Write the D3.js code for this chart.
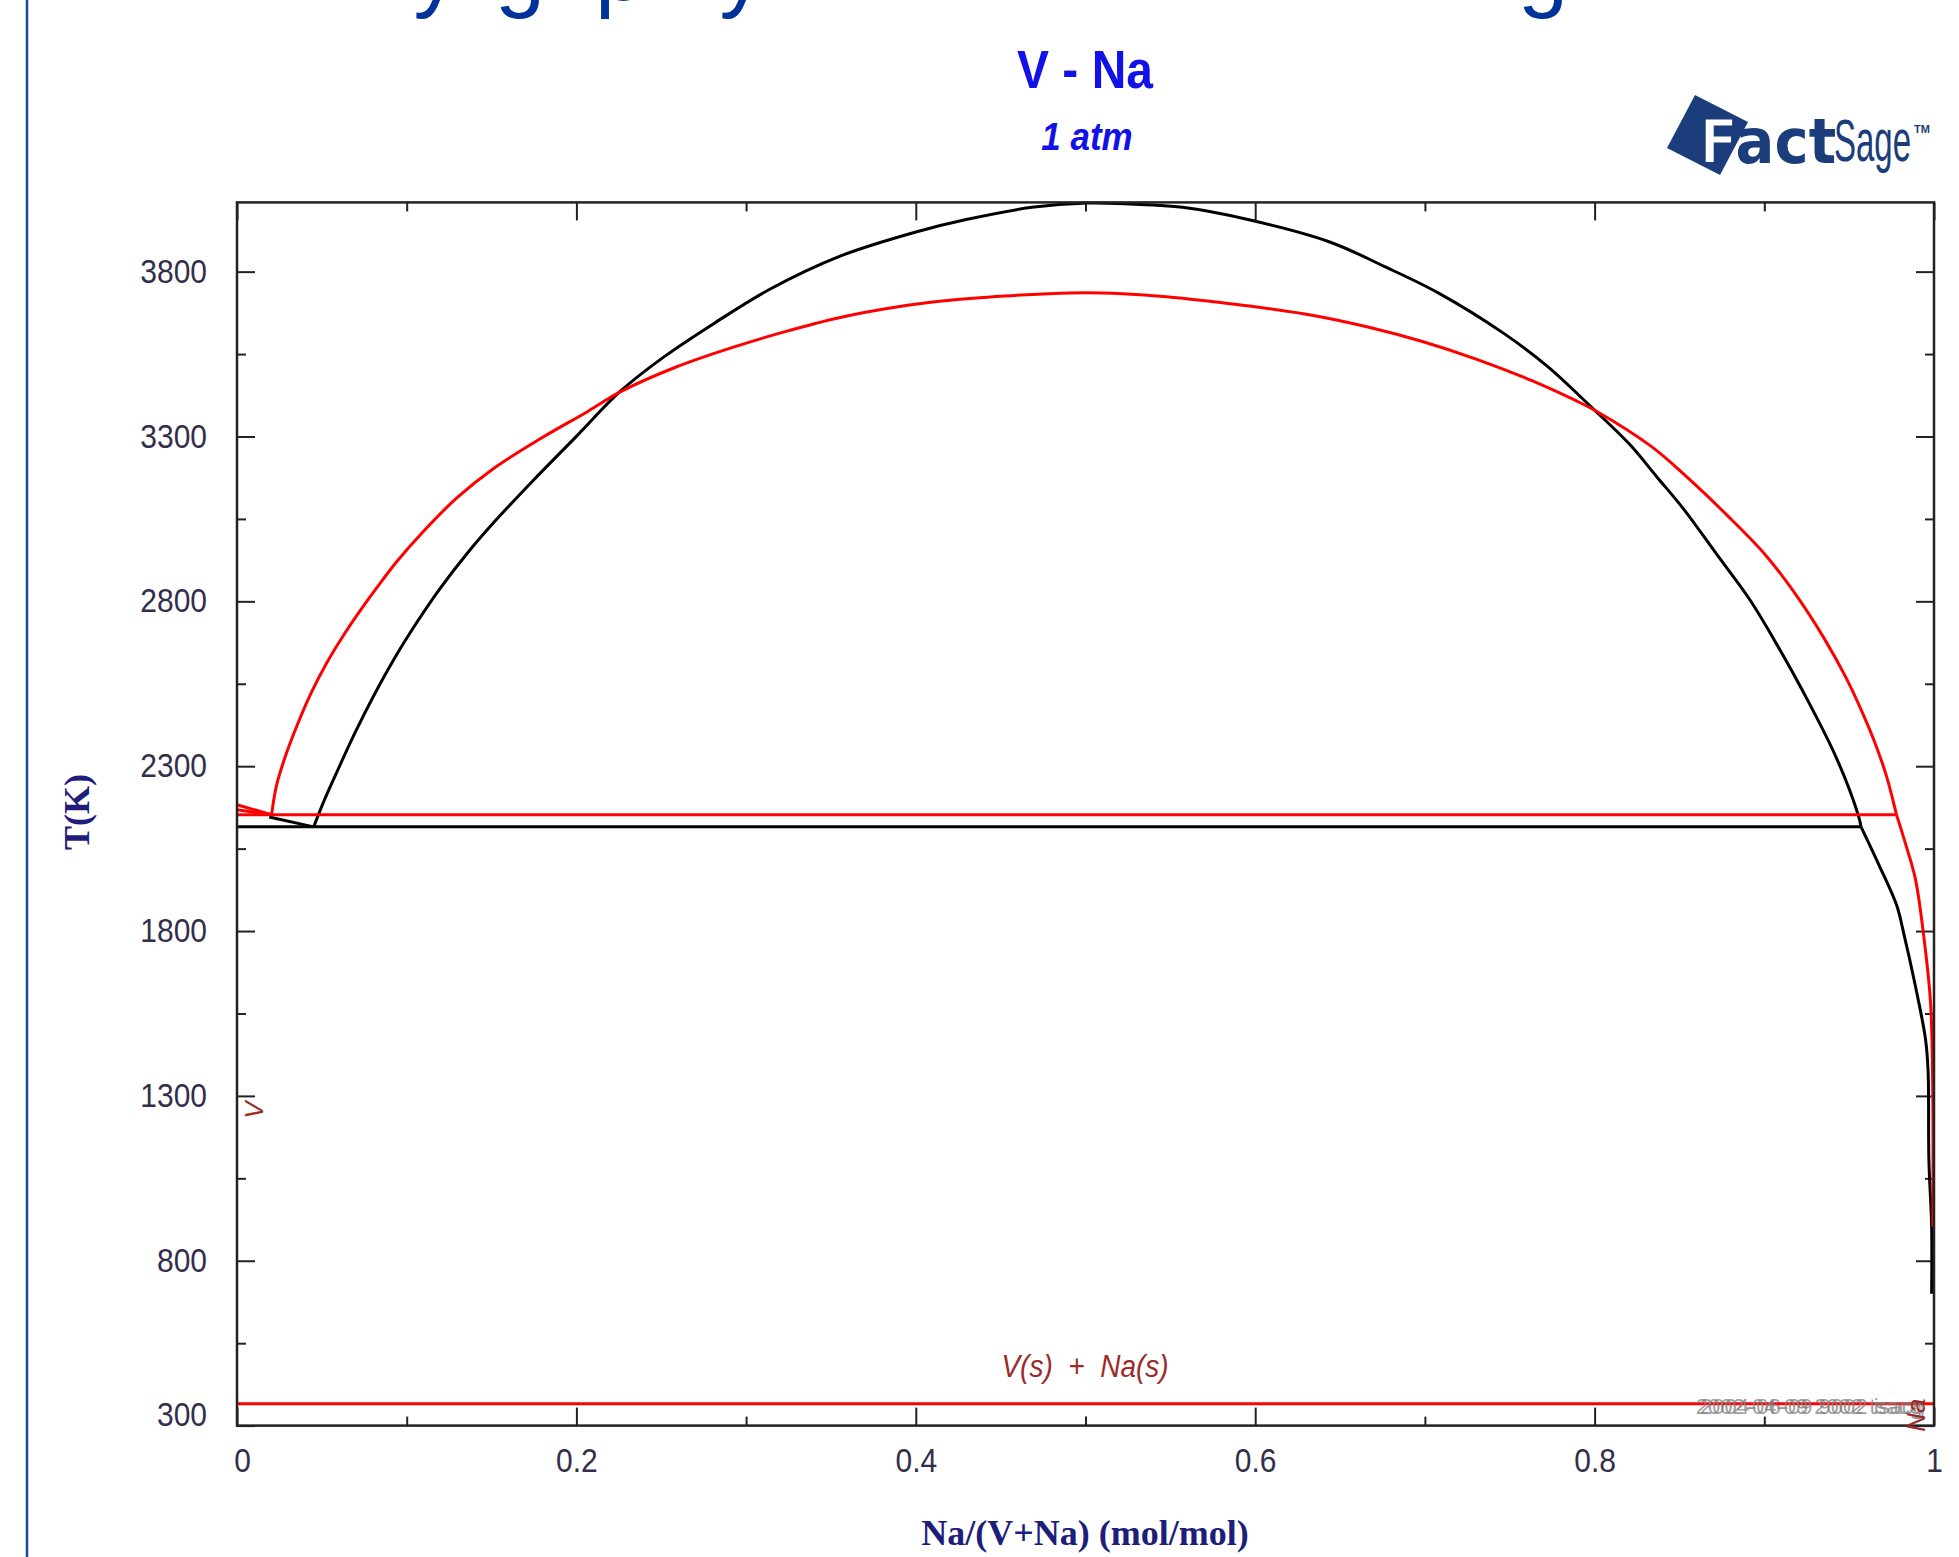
<!DOCTYPE html>
<html><head><meta charset="utf-8">
<script src="https://cdn.jsdelivr.net/npm/d3@7"></script>
<style>html,body{margin:0;padding:0;background:#fff;overflow:hidden}svg{display:block}</style>
</head><body>
<svg id="c" width="1959" height="1557"></svg>
<script>
// ---------- data ----------
const xMajor = [0, 0.2, 0.4, 0.6, 0.8, 1];
const xLabels = ["0", "0.2", "0.4", "0.6", "0.8", "1"];
const xMinor = [0.1, 0.3, 0.5, 0.7, 0.9];
const yMajor = [300, 800, 1300, 1800, 2300, 2800, 3300, 3800];
const yMinor = [550, 1050, 1550, 2050, 2550, 3050, 3550];

// black dome (x = Na mole fraction, T in K)
const blackDomeX = [0.0452,0.0517,0.0598,0.0695,0.0808,0.0937,0.1066,0.1195,0.1357,0.1518,0.1744,0.2003,0.2261,0.252,0.2811,0.3134,0.3554,0.4006,0.4297,0.4684,0.5007,0.5267,0.5572,0.5957,0.6439,0.676,0.7081,0.7467,0.7724,0.7981,0.8205,0.8366,0.8526,0.8719,0.8912,0.9072,0.9233,0.9426,0.9554,0.957];
const blackDomeT = [2116,2200,2293,2401,2516,2635,2741,2838,2946,3042,3166,3302,3438,3543,3643,3745,3847,3921,3958,3995,4008,4005,3995,3958,3890,3816,3735,3612,3512,3389,3277,3178,3079,2943,2807,2671,2522,2324,2151,2116];
// black branch below the invariant, Na-rich side
const blackTailX = [0.957,0.9676,0.978,0.982,0.989,0.995,0.9965,0.997,0.9986,0.9986];
const blackTailT = [2116,2000,1878,1797,1634,1472,1377,1105,903,700];

// red dome
const redDomeX = [0.0204,0.0232,0.0285,0.0355,0.0435,0.0525,0.0625,0.073,0.0845,0.0937,0.1098,0.1292,0.1518,0.1777,0.2067,0.2261,0.2584,0.2907,0.323,0.3554,0.3877,0.42,0.4523,0.4781,0.5,0.5219,0.5476,0.5733,0.6022,0.6343,0.6664,0.6985,0.7306,0.7627,0.7884,0.8013,0.8334,0.8527,0.8783,0.9008,0.92,0.935,0.948,0.958,0.966,0.972,0.9779];
const redDomeT = [2153,2240,2330,2425,2520,2610,2695,2775,2856,2918,3012,3112,3205,3290,3376,3436,3510,3568,3618,3661,3692,3713,3726,3733,3736,3733,3724,3710,3692,3667,3632,3588,3534,3470,3410,3376,3270,3185,3060,2940,2810,2690,2570,2460,2360,2270,2153];
// red branch below the invariant, Na-rich side
const redTailX = [0.9779,0.9835,0.989,0.994,0.998,0.9993,0.9993];
const redTailT = [2153,2060,1959,1783,1580,1300,903];

// horizontal invariant lines [x0, x1, T]
const redLines = [[0, 0.978, 2153], [0, 1, 366]];
const blackLines = [[0, 0.957, 2116]];
// short segments near pure V
const redSegX = [[0, 0.0204], [0, 0.0204]];
const redSegT = [[2183, 2153], [2168, 2153]];
const blackSegX = [[0.019, 0.0452]];
const blackSegT = [[2146, 2116]];

// ---------- layout ----------
const svg = d3.select("#c");
const L = 237, R = 1934, T0 = 202.4, B = 1425.6;
const x = d3.scaleLinear().domain([0, 1]).range([L, R]);
const y = d3.scaleLinear().domain([300, 4010]).range([B, T0]);

svg.append("rect").attr("width", 1959).attr("height", 1557).attr("fill", "#fff");

// slide decoration: vertical blue rule & clipped slide title descenders
svg.append("line").attr("x1", 27).attr("x2", 27).attr("y1", 0).attr("y2", 1557)
  .attr("stroke", "#1f47a8").attr("stroke-width", 2.5);
const slideGlyphs = [["y", 436], ["g", 520], ["p", 620], ["y", 742], ["g", 1543]];
slideGlyphs.forEach(([c, cx]) => {
  svg.append("text").attr("x", cx).attr("y", 0).attr("text-anchor", "middle")
    .attr("font-family", "Liberation Sans, Arial, sans-serif")
    .attr("font-size", 90).attr("fill", "#003399").text(c);
});

// titles
svg.append("text").attr("transform", "translate(1085,88) scale(1,1.1)")
  .attr("text-anchor", "middle").attr("font-family", "Liberation Sans, Arial, sans-serif")
  .attr("font-weight", "bold").attr("font-size", 48).attr("fill", "#1212e8").text("V - Na");
svg.append("text").attr("transform", "translate(1087,150) scale(1,1.12)")
  .attr("text-anchor", "middle").attr("font-family", "Liberation Sans, Arial, sans-serif")
  .attr("font-weight", "bold").attr("font-style", "italic").attr("font-size", 35)
  .attr("fill", "#1212e8").text("1 atm");

// FactSage logo
const navy = "#1b3d7b";
svg.append("polygon").attr("points", "1695,95 1748,122 1720,175 1667,148").attr("fill", navy);
const logo = svg.append("text").attr("transform", "translate(1699,163) scale(0.93,1)")
  .attr("font-family", "DejaVu Sans, sans-serif").attr("font-weight", "bold").attr("font-size", 62);
logo.append("tspan").attr("fill", "#fff").attr("stroke", navy).attr("stroke-width", 3).text("F");
logo.append("tspan").attr("fill", navy).attr("dx", -3).text("act");
svg.append("text").attr("transform", "translate(1834,161) scale(0.55,1)")
  .attr("font-family", "Liberation Sans, Arial, sans-serif").attr("font-size", 60)
  .attr("fill", navy).text("Sage");
svg.append("text").attr("x", 1914).attr("y", 133).attr("font-family", "Liberation Sans, Arial, sans-serif")
  .attr("font-weight", "bold").attr("font-size", 11).attr("fill", navy).text("TM");

// ---------- axes ----------
const labelColor = "#332e4a";
function styleAxis(g, withText) {
  g.select(".domain").remove();
  g.selectAll(".tick line").attr("stroke", "#222").attr("stroke-width", 2);
  if (withText) {
    g.selectAll(".tick text").attr("fill", labelColor)
      .attr("font-family", "Liberation Sans, Arial, sans-serif").attr("font-size", 30)
      .attr("transform", "scale(1,1.1)");
  } else g.selectAll(".tick text").remove();
}
// bottom
const gB = svg.append("g").attr("transform", `translate(0,${B})`)
  .call(d3.axisBottom(x).tickValues(xMajor).tickSizeInner(-18).tickSizeOuter(0).tickPadding(21)
    .tickFormat((d, i) => xLabels[i]));
styleAxis(gB, true);
gB.selectAll(".tick text").filter(d => d === 0).attr("x", 5);
svg.append("g").attr("transform", `translate(0,${B})`)
  .call(d3.axisBottom(x).tickValues(xMinor).tickSizeInner(-9).tickSizeOuter(0).tickFormat(""))
  .call(g => styleAxis(g, false));
// top
svg.append("g").attr("transform", `translate(0,${T0})`)
  .call(d3.axisTop(x).tickValues(xMajor).tickSizeInner(-18).tickSizeOuter(0).tickFormat(""))
  .call(g => styleAxis(g, false));
svg.append("g").attr("transform", `translate(0,${T0})`)
  .call(d3.axisTop(x).tickValues(xMinor).tickSizeInner(-9).tickSizeOuter(0).tickFormat(""))
  .call(g => styleAxis(g, false));
// left
const gL = svg.append("g").attr("transform", `translate(${L},0)`)
  .call(d3.axisLeft(y).tickValues(yMajor).tickSizeInner(-18).tickSizeOuter(0).tickPadding(30)
    .tickFormat(d3.format("d")));
styleAxis(gL, true);
gL.selectAll(".tick text").filter(d => d === 300).attr("y", -10);
svg.append("g").attr("transform", `translate(${L},0)`)
  .call(d3.axisLeft(y).tickValues(yMinor).tickSizeInner(-9).tickSizeOuter(0).tickFormat(""))
  .call(g => styleAxis(g, false));
// right
svg.append("g").attr("transform", `translate(${R},0)`)
  .call(d3.axisRight(y).tickValues(yMajor).tickSizeInner(-18).tickSizeOuter(0).tickFormat(""))
  .call(g => styleAxis(g, false));
svg.append("g").attr("transform", `translate(${R},0)`)
  .call(d3.axisRight(y).tickValues(yMinor).tickSizeInner(-9).tickSizeOuter(0).tickFormat(""))
  .call(g => styleAxis(g, false));

// axis titles
svg.append("text").attr("x", 1085).attr("y", 1545).attr("text-anchor", "middle")
  .attr("font-family", "Liberation Serif, Times New Roman, serif").attr("font-weight", "bold")
  .attr("font-size", 36).attr("fill", "#1e1e7a").text("Na/(V+Na) (mol/mol)");
svg.append("text").attr("transform", "translate(89,812) rotate(-90)").attr("text-anchor", "middle")
  .attr("font-family", "Liberation Serif, Times New Roman, serif").attr("font-weight", "bold")
  .attr("font-size", 36).attr("fill", "#1e1e7a").text("T(K)");

// ---------- curves ----------
const plot = svg.append("g");
const straight = d3.line().x(d => x(d[0])).y(d => y(d[1]));
const smooth = d3.line().x(d => x(d[0])).y(d => y(d[1])).curve(d3.curveCatmullRom.alpha(0.5));
function drawPoly(xs, ts, color, gen) {
  plot.append("path").attr("d", (gen || straight)(xs.map((v, i) => [v, ts[i]])))
    .attr("fill", "none").attr("stroke", color).attr("stroke-width", 3)
    .attr("stroke-linejoin", "round");
}
blackLines.forEach(([a, b, t]) => drawPoly([a, b], [t, t], "#000"));
blackSegX.forEach((xs, i) => drawPoly(xs, blackSegT[i], "#000"));
drawPoly(blackDomeX, blackDomeT, "#000", smooth);
drawPoly(blackTailX, blackTailT, "#000", smooth);
redLines.forEach(([a, b, t]) => drawPoly([a, b], [t, t], "#ff0000"));
redSegX.forEach((xs, i) => drawPoly(xs, redSegT[i], "#ff0000"));
drawPoly(redDomeX, redDomeT, "#ff0000", smooth);
drawPoly(redTailX, redTailT, "#ff0000", smooth);

// frame
svg.append("rect").attr("x", L).attr("y", T0).attr("width", R - L).attr("height", B - T0)
  .attr("fill", "none").attr("stroke", "#222").attr("stroke-width", 2.5);

// ---------- labels in plot ----------
const phaseColor = "#9b2b2b";
svg.append("text").attr("transform", `translate(1085,1377) scale(1,1.1)`).attr("text-anchor", "middle")
  .attr("font-family", "Liberation Sans, Arial, sans-serif").attr("font-style", "italic")
  .attr("font-size", 28).attr("fill", phaseColor).attr("xml:space", "preserve")
  .text("V(s)  +  Na(s)");
svg.append("text").attr("transform", `translate(${x(0.0155)},${y(1257)}) rotate(-90)`)
  .attr("text-anchor", "middle").attr("font-family", "Liberation Sans, Arial, sans-serif")
  .attr("font-style", "italic").attr("font-size", 26).attr("fill", phaseColor).text("V");
// overlapping grey time stamps (as in the reference)
[["2002-04-09 2002 tsacg", 0], ["2004-06-09 9002 isacg", 3]].forEach(([s, dx]) => {
  svg.append("text").attr("x", 1922 + dx).attr("y", 1414).attr("text-anchor", "end")
    .attr("font-family", "Liberation Sans, Arial, sans-serif").attr("font-size", 22)
    .attr("fill", "#808080").attr("opacity", 0.75).text(s);
});
svg.append("text").attr("transform", `translate(1925,${y(332)}) rotate(-90)`)
  .attr("text-anchor", "middle").attr("font-family", "Liberation Sans, Arial, sans-serif")
  .attr("font-style", "italic").attr("font-size", 26).attr("fill", phaseColor).text("Na");
</script>
</body></html>
